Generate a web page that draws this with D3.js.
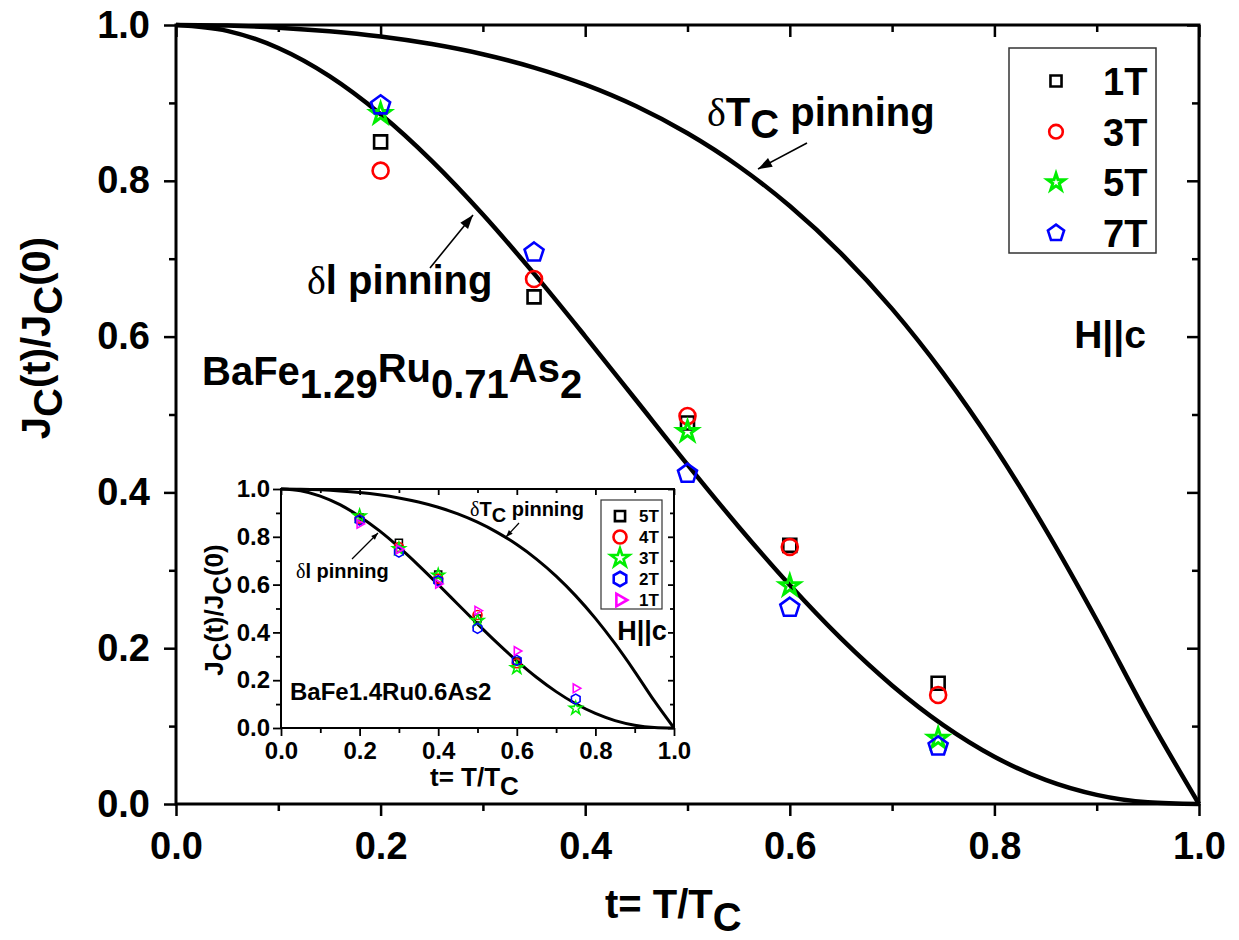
<!DOCTYPE html>
<html><head><meta charset="utf-8">
<script src="https://cdn.jsdelivr.net/npm/d3@7"></script>
<style>
body{margin:0;background:#fff}
svg{display:block}
text{font-family:"Liberation Sans",Arial,sans-serif;font-weight:bold;fill:#000}
</style>
</head><body>
<svg id="c" width="1239" height="940"></svg>
<script>
// ---- theory curves ----
const tGrid   = [0,0.05,0.1,0.15,0.2,0.25,0.3,0.35,0.4,0.45,0.5,0.55,0.6,0.65,0.7,0.75,0.8,0.85,0.9,0.95,1.0];
const deltaL  = [1,0.9925,0.9704,0.9343,0.8854,0.8256,0.7567,0.6808,0.6004,0.5180,0.4357,0.3560,0.2810,0.2125,0.1522,0.1013,0.0607,0.0309,0.0117,0.0022,0];
const deltaTc = [1,0.9992,0.9966,0.9920,0.9852,0.9755,0.9625,0.9454,0.9234,0.8956,0.8610,0.8187,0.7676,0.7069,0.6356,0.5529,0.4586,0.3526,0.2362,0.1131,0];

// ---- main panel data ----
const mainT   = [0.2, 0.35, 0.5, 0.6, 0.745];
const main1T  = [0.850, 0.651, 0.489, 0.332, 0.155];
const main3T  = [0.813, 0.674, 0.498, 0.330, 0.140];
const main5T  = [0.886, null,  0.478, 0.280, 0.084];
const main7T  = [0.897, 0.708, 0.424, 0.252, 0.074];
const mainNames = ["1T","3T","5T","7T"];

// ---- inset data ----
const insetT  = [0.2, 0.3, 0.4, 0.5, 0.6, 0.75];
const inset5T = [0.882, 0.775, 0.642, 0.458, 0.278, null];
const inset4T = [0.876, 0.757, 0.625, 0.473, 0.271, null];
const inset3T = [0.887, 0.750, 0.639, 0.449, 0.252, 0.082];
const inset2T = [0.870, 0.736, 0.616, 0.417, 0.283, 0.121];
const inset1T = [0.854, 0.748, 0.603, 0.491, 0.322, 0.166];
const insetNames = ["5T","4T","3T","2T","1T"];

const majorTicks = [0,0.2,0.4,0.6,0.8,1.0];
const minorTicks = [0.1,0.3,0.5,0.7,0.9];
const tickLabels = ["0.0","0.2","0.4","0.6","0.8","1.0"];

const svg = d3.select("#c");

function polyPath(n, r, rot){
  const p=[];
  for(let i=0;i<n;i++){const a=rot+i*2*Math.PI/n;p.push([r*Math.sin(a),-r*Math.cos(a)]);}
  return "M"+p.map(d=>d[0].toFixed(2)+","+d[1].toFixed(2)).join("L")+"Z";
}
function shapePath(shape, s){
  if(shape==="square") return d3.symbol(d3.symbolSquare, s*s)();
  if(shape==="circle") return d3.symbol(d3.symbolCircle, Math.PI*s*s/4)();
  if(shape==="star") return d3.symbol(d3.symbolStar, s*s*0.62)();
  if(shape==="pentagon") return polyPath(5, s/2, 0);
  if(shape==="hexagon") return polyPath(6, s/2, 0);
  if(shape==="triright") return polyPath(3, s/2, Math.PI/2);
}
function drawMarker(g, shape, color, s, sw, cx, cy){
  g.append("path").attr("d", shapePath(shape,s))
   .attr("transform",`translate(${cx},${cy})`)
   .attr("fill","none").attr("stroke",color).attr("stroke-width",sw)
   .attr("stroke-linejoin","miter");
}
function arrow(g, x1,y1,x2,y2, w, hl, hw){
  g.append("line").attr("x1",x1).attr("y1",y1).attr("x2",x2).attr("y2",y2)
    .attr("stroke","#000").attr("stroke-width",w);
  const a=Math.atan2(y2-y1,x2-x1);
  const bx=x2-hl*Math.cos(a), by=y2-hl*Math.sin(a);
  const px=-Math.sin(a)*hw, py=Math.cos(a)*hw;
  g.append("path").attr("d",`M${x2},${y2}L${bx+px},${by+py}L${bx-px},${by-py}Z`).attr("fill","#000");
}

function panel(cfg){
  const g = svg.append("g");
  const x = d3.scaleLinear([0,1],[cfg.x0,cfg.x1]);
  const y = d3.scaleLinear([0,1],[cfg.y0,cfg.y1]);
  if(cfg.bg) g.append("rect").attr("x",cfg.x0).attr("y",cfg.y1).attr("width",cfg.x1-cfg.x0).attr("height",cfg.y0-cfg.y1).attr("fill","#fff");
  const fmt = (d)=>tickLabels[majorTicks.indexOf(d)];
  const axes = [
    [d3.axisBottom(x).tickValues(majorTicks).tickSize(cfg.tM).tickPadding(cfg.xPad).tickFormat(fmt), `translate(0,${cfg.y0})`],
    [d3.axisBottom(x).tickValues(minorTicks).tickSize(cfg.tm).tickFormat(""), `translate(0,${cfg.y0})`],
    [d3.axisLeft(y).tickValues(majorTicks).tickSize(cfg.tM).tickPadding(cfg.yPad).tickFormat(fmt), `translate(${cfg.x0},0)`],
    [d3.axisLeft(y).tickValues(minorTicks).tickSize(cfg.tm).tickFormat(""), `translate(${cfg.x0},0)`],
    [d3.axisTop(x).tickValues(majorTicks).tickSize(-cfg.tMi).tickFormat(""), `translate(0,${cfg.y1})`],
    [d3.axisTop(x).tickValues(minorTicks).tickSize(-cfg.tmi).tickFormat(""), `translate(0,${cfg.y1})`],
    [d3.axisRight(y).tickValues(majorTicks).tickSize(-cfg.tMi).tickFormat(""), `translate(${cfg.x1},0)`],
    [d3.axisRight(y).tickValues(minorTicks).tickSize(-cfg.tmi).tickFormat(""), `translate(${cfg.x1},0)`]
  ];
  axes.forEach(([ax,tr])=>{
    const a=g.append("g").attr("transform",tr).call(ax);
    a.select(".domain").remove();
    a.selectAll(".tick line").attr("stroke","#000").attr("stroke-width",cfg.tw);
    a.selectAll("text").attr("font-size",cfg.fs+"px").attr("font-weight","bold")
      .attr("font-family",'"Liberation Sans",Arial,sans-serif').attr("fill","#000");
  });
  g.append("rect").attr("x",cfg.x0).attr("y",cfg.y1).attr("width",cfg.x1-cfg.x0).attr("height",cfg.y0-cfg.y1)
   .attr("fill","none").attr("stroke","#000").attr("stroke-width",cfg.fw);
  const line = d3.line().x((d,i)=>x(tGrid[i])).y(d=>y(d)).curve(d3.curveMonotoneX);
  [deltaL, deltaTc].forEach(c=>{
    g.append("path").attr("d",line(c)).attr("fill","none").attr("stroke","#000")
     .attr("stroke-width",cfg.lw).attr("stroke-linejoin","round");
  });
  return {g,x,y};
}

// ---------- main panel ----------
const M = panel({x0:176,x1:1199,y0:804,y1:25,tM:12,tm:7,tMi:12,tmi:7,tw:2.5,fw:3,fs:38,xPad:16,yPad:14,lw:4.5});
const mainStyles = [["square","#000",13],["circle","#ff0000",16],["star","#00ee00",14],["pentagon","#0000ff",20]];
[main1T, main3T, main5T, main7T].forEach((vals,k)=>{
  const [sh,col,s]=mainStyles[k];
  vals.forEach((v,i)=>{ if(v!==null) drawMarker(M.g, sh, col, s, sh==="star"?3:2.6, M.x(mainT[i]), M.y(v)); });
});
// main legend
M.g.append("rect").attr("x",1009).attr("y",48).attr("width",147).attr("height",205)
  .attr("fill","none").attr("stroke","#333").attr("stroke-width",1.5);
mainNames.forEach((n,k)=>{
  const cy = 81 + k*50.7;
  const [sh,col,s]=mainStyles[k];
  drawMarker(M.g, sh, col, s*0.85, sh==="star"?3:2.6, 1056, cy);
  M.g.append("text").attr("x",1103).attr("y",cy+14).attr("font-size","38px").text(n);
});
// main annotations
{
  const t=M.g.append("text").attr("x",707).attr("y",126).attr("font-size","40px");
  t.append("tspan").attr("font-family",'"Liberation Serif",serif').attr("font-weight","normal").text("δ");
  t.append("tspan").text("T");
  t.append("tspan").attr("dy",12).text("C");
  t.append("tspan").attr("dy",-12).text(" pinning");
  arrow(M.g, 807,143, 758,169, 1.6, 14, 5);

  const t2=M.g.append("text").attr("x",307).attr("y",294).attr("font-size","40px");
  t2.append("tspan").attr("font-family",'"Liberation Serif",serif').attr("font-weight","normal").text("δ");
  t2.append("tspan").text("l pinning");
  arrow(M.g, 430,268, 473,215, 1.6, 14, 5);

  M.g.append("text").attr("x",1110).attr("y",348).attr("text-anchor","middle").attr("font-size","39px").text("H||c");

  const f=M.g.append("text").attr("x",202).attr("y",385).attr("font-size","40px");
  f.append("tspan").text("BaFe");
  f.append("tspan").attr("dy",13).text("1.29");
  f.append("tspan").attr("dy",-16).text("Ru");
  f.append("tspan").attr("dy",16).text("0.71");
  f.append("tspan").attr("dy",-16).text("As");
  f.append("tspan").attr("dy",16).text("2");

  const xt=M.g.append("text").attr("x",605).attr("y",918).attr("font-size","40px");
  xt.append("tspan").text("t= T/T");
  xt.append("tspan").attr("dy",13).text("C");

  const yt=M.g.append("text").attr("transform","translate(50,338) rotate(-90)").attr("text-anchor","middle").attr("font-size","40px");
  yt.append("tspan").text("J");
  yt.append("tspan").attr("dy",12).text("C");
  yt.append("tspan").attr("dy",-12).text("(t)/J");
  yt.append("tspan").attr("dy",12).text("C");
  yt.append("tspan").attr("dy",-12).text("(0)");
}

// ---------- inset ----------
const I = panel({x0:281,x1:674,y0:728,y1:489,tM:8,tm:5,tMi:6,tmi:4,tw:1.8,fw:2,fs:24,xPad:6,yPad:3,lw:3,bg:true});
const insetStyles = [["square","#000",7],["circle","#ff0000",9],["star","#00ee00",9],["hexagon","#0000ff",10],["triright","#ff00ff",10]];
[inset5T, inset4T, inset3T, inset2T, inset1T].forEach((vals,k)=>{
  const [sh,col,s]=insetStyles[k];
  vals.forEach((v,i)=>{ if(v!==null) drawMarker(I.g, sh, col, s, 1.6, I.x(insetT[i]), I.y(v)); });
});
I.g.append("rect").attr("x",601).attr("y",500).attr("width",61).attr("height",109)
  .attr("fill","none").attr("stroke","#333").attr("stroke-width",1.2);
insetNames.forEach((n,k)=>{
  const cy = 516 + k*21;
  const [sh,col,s]=insetStyles[k];
  drawMarker(I.g, sh, col, s*1.45, 2.6, 620, cy);
  I.g.append("text").attr("x",639).attr("y",cy+6).attr("font-size","17px").text(n);
});
{
  const t=I.g.append("text").attr("x",470).attr("y",516).attr("font-size","20px");
  t.append("tspan").attr("font-family",'"Liberation Serif",serif').attr("font-weight","normal").text("δ");
  t.append("tspan").text("T");
  t.append("tspan").attr("dy",6).text("C");
  t.append("tspan").attr("dy",-6).text(" pinning");
  arrow(I.g, 519,523, 506,537, 1.2, 7, 2.6);

  const t2=I.g.append("text").attr("x",296).attr("y",578).attr("font-size","20px");
  t2.append("tspan").attr("font-family",'"Liberation Serif",serif').attr("font-weight","normal").text("δ");
  t2.append("tspan").text("l pinning");
  arrow(I.g, 352,559, 378,533, 1.2, 7, 2.6);

  I.g.append("text").attr("x",642).attr("y",640).attr("text-anchor","middle").attr("font-size","27px").text("H||c");
  I.g.append("text").attr("x",290).attr("y",700).attr("font-size","24px").text("BaFe1.4Ru0.6As2");

  const xt=I.g.append("text").attr("x",430).attr("y",786).attr("font-size","26px");
  xt.append("tspan").text("t= T/T");
  xt.append("tspan").attr("dy",9).text("C");

  const yt=I.g.append("text").attr("transform","translate(223,610) rotate(-90)").attr("text-anchor","middle").attr("font-size","26px");
  yt.append("tspan").text("J");
  yt.append("tspan").attr("dy",8).text("C");
  yt.append("tspan").attr("dy",-8).text("(t)/J");
  yt.append("tspan").attr("dy",8).text("C");
  yt.append("tspan").attr("dy",-8).text("(0)");
}
</script>
</body></html>
